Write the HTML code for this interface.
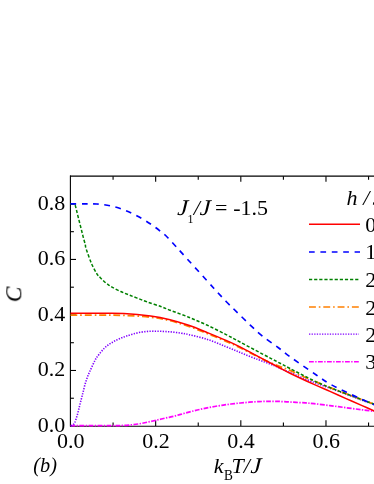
<!DOCTYPE html>
<html><head><meta charset="utf-8"><style>
html,body{margin:0;padding:0;background:#fff;}
body{width:374px;height:484px;overflow:hidden;}
svg{display:block;will-change:transform;font-family:"Liberation Serif",serif;}
.t{filter:grayscale(1);}
</style></head><body>
<svg width="374" height="484" viewBox="0 0 374 484">
<rect width="374" height="484" fill="#fff"/>
<g stroke="#000" stroke-width="1.1" fill="none">
<line x1="70.4" y1="175.4" x2="70.4" y2="426.5"/>
<line x1="70" y1="176.16" x2="374" y2="176.16"/>
<line x1="70" y1="426.3" x2="374" y2="426.3"/>
<line x1="113.08" y1="426.00" x2="113.08" y2="422.50"/><line x1="113.08" y1="176.16" x2="113.08" y2="179.66"/><line x1="155.66" y1="426.00" x2="155.66" y2="420.30"/><line x1="155.66" y1="176.16" x2="155.66" y2="181.86"/><line x1="198.24" y1="426.00" x2="198.24" y2="422.50"/><line x1="198.24" y1="176.16" x2="198.24" y2="179.66"/><line x1="240.82" y1="426.00" x2="240.82" y2="420.30"/><line x1="240.82" y1="176.16" x2="240.82" y2="181.86"/><line x1="283.40" y1="426.00" x2="283.40" y2="422.50"/><line x1="283.40" y1="176.16" x2="283.40" y2="179.66"/><line x1="325.98" y1="426.00" x2="325.98" y2="420.30"/><line x1="325.98" y1="176.16" x2="325.98" y2="181.86"/><line x1="368.56" y1="426.00" x2="368.56" y2="422.50"/><line x1="368.56" y1="176.16" x2="368.56" y2="179.66"/><line x1="70.50" y1="398.24" x2="73.90" y2="398.24"/><line x1="70.50" y1="370.48" x2="76.00" y2="370.48"/><line x1="70.50" y1="342.72" x2="73.90" y2="342.72"/><line x1="70.50" y1="314.96" x2="76.00" y2="314.96"/><line x1="70.50" y1="287.20" x2="73.90" y2="287.20"/><line x1="70.50" y1="259.44" x2="76.00" y2="259.44"/><line x1="70.50" y1="231.68" x2="73.90" y2="231.68"/><line x1="70.50" y1="203.92" x2="76.00" y2="203.92"/>
</g>
<g fill="none" stroke-linecap="butt" stroke-linejoin="round">
<path d="M70.50 425.70 C75.42 425.70 93.08 425.70 100.00 425.70 C106.92 425.70 108.77 425.72 112.00 425.70 C115.23 425.68 116.62 425.70 119.40 425.60 C122.18 425.50 125.58 425.37 128.70 425.10 C131.82 424.83 134.98 424.48 138.10 424.00 C141.22 423.52 144.28 422.85 147.40 422.20 C150.52 421.55 153.68 420.82 156.80 420.10 C159.92 419.38 162.98 418.62 166.10 417.90 C169.22 417.18 172.45 416.57 175.50 415.80 C178.55 415.03 181.37 414.12 184.40 413.30 C187.43 412.48 190.58 411.67 193.70 410.90 C196.82 410.13 199.98 409.38 203.10 408.70 C206.22 408.02 209.28 407.37 212.40 406.80 C215.52 406.23 218.68 405.77 221.80 405.30 C224.92 404.83 227.98 404.38 231.10 404.00 C234.22 403.62 237.45 403.30 240.50 403.00 C243.55 402.70 246.37 402.43 249.40 402.20 C252.43 401.97 255.58 401.73 258.70 401.60 C261.82 401.47 264.98 401.43 268.10 401.40 C271.22 401.37 274.28 401.33 277.40 401.40 C280.52 401.47 283.68 401.63 286.80 401.80 C289.92 401.97 292.98 402.22 296.10 402.40 C299.22 402.58 302.52 402.68 305.50 402.90 C308.48 403.12 309.92 403.25 314.00 403.70 C318.08 404.15 324.65 404.93 330.00 405.60 C335.35 406.27 340.75 407.00 346.10 407.70 C351.45 408.40 357.12 409.17 362.10 409.80 C367.08 410.43 373.68 411.22 376.00 411.50" stroke="#ff00ff" stroke-width="1.7" stroke-dasharray="4.8 1.4 1.4 1.4"/>
<path d="M70.90 425.60 C71.05 425.58 71.42 425.65 71.80 425.50 C72.18 425.35 72.72 425.15 73.20 424.70 C73.68 424.25 74.22 423.77 74.70 422.80 C75.18 421.83 75.62 420.35 76.10 418.90 C76.57 417.45 77.07 415.85 77.55 414.10 C78.03 412.35 78.53 410.32 79.00 408.40 C79.47 406.48 79.92 404.53 80.40 402.60 C80.88 400.67 81.44 398.57 81.90 396.80 C82.36 395.03 82.62 394.12 83.15 392.00 C83.68 389.88 84.42 386.50 85.10 384.10 C85.78 381.70 86.53 379.57 87.25 377.60 C87.97 375.63 88.59 374.17 89.40 372.30 C90.21 370.43 91.17 368.38 92.10 366.40 C93.02 364.42 94.14 361.95 94.95 360.40 C95.76 358.85 95.99 358.45 96.95 357.10 C97.91 355.75 99.46 353.80 100.70 352.30 C101.94 350.80 103.15 349.32 104.40 348.10 C105.65 346.88 106.85 345.97 108.20 345.00 C109.55 344.03 111.08 343.13 112.50 342.30 C113.92 341.47 115.18 340.75 116.70 340.00 C118.22 339.25 119.97 338.45 121.60 337.80 C123.23 337.15 124.60 336.73 126.50 336.10 C128.40 335.47 130.58 334.65 133.00 334.00 C135.42 333.35 138.32 332.65 141.00 332.20 C143.68 331.75 146.42 331.47 149.10 331.30 C151.78 331.13 154.43 331.17 157.10 331.20 C159.77 331.23 162.43 331.35 165.10 331.50 C167.77 331.65 170.42 331.82 173.10 332.10 C175.78 332.38 178.60 332.78 181.20 333.20 C183.80 333.62 184.33 333.57 188.70 334.60 C193.07 335.63 201.18 337.38 207.40 339.40 C213.62 341.42 220.22 344.38 226.00 346.70 C231.78 349.02 236.75 351.15 242.10 353.30 C247.45 355.45 253.45 357.82 258.10 359.60 C262.75 361.38 266.67 362.72 270.00 364.00 C273.33 365.28 274.77 365.87 278.10 367.30 C281.43 368.73 284.02 370.08 290.00 372.60 C295.98 375.12 307.33 379.80 314.00 382.40 C320.67 385.00 324.65 386.23 330.00 388.20 C335.35 390.17 340.75 392.20 346.10 394.20 C351.45 396.20 357.12 398.33 362.10 400.20 C367.08 402.07 373.68 404.53 376.00 405.40" stroke="#8000ff" stroke-width="1.6" stroke-dasharray="1.3 1.35"/>
<path d="M70.50 315.20 C75.42 315.20 91.12 315.17 100.00 315.20 C108.88 315.23 115.37 315.07 123.80 315.40 C132.23 315.73 142.90 316.32 150.60 317.20 C158.30 318.08 163.65 319.18 170.00 320.70 C176.35 322.22 182.47 324.15 188.70 326.30 C194.93 328.45 201.17 331.10 207.40 333.60 C213.63 336.10 220.67 338.95 226.10 341.30 C231.53 343.65 234.00 344.77 240.00 347.70 C246.00 350.63 255.75 355.88 262.10 358.90 C268.45 361.92 273.45 363.88 278.10 365.80 C282.75 367.72 286.02 368.70 290.00 370.40 C293.98 372.10 298.00 374.23 302.00 376.00 C306.00 377.77 309.33 379.07 314.00 381.00 C318.67 382.93 324.65 385.48 330.00 387.60 C335.35 389.72 340.75 391.68 346.10 393.70 C351.45 395.72 357.12 397.83 362.10 399.70 C367.08 401.57 373.68 404.03 376.00 404.90" stroke="#ff8000" stroke-width="1.8" stroke-dasharray="6.9 2.9 1.6 2.9"/>
<path d="M70.50 203.70 C71.00 203.75 72.73 203.77 73.50 204.00 C74.27 204.23 74.57 203.93 75.10 205.10 C75.63 206.27 76.08 208.60 76.70 211.00 C77.32 213.40 78.08 216.65 78.80 219.50 C79.52 222.35 80.28 225.25 81.00 228.10 C81.72 230.95 82.38 233.83 83.10 236.60 C83.82 239.37 84.80 242.67 85.30 244.70 C85.80 246.73 85.07 245.67 86.10 248.80 C87.13 251.93 89.70 259.33 91.50 263.50 C93.30 267.67 95.47 271.48 96.90 273.80 C98.33 276.12 98.75 275.98 100.10 277.40 C101.45 278.82 103.45 280.95 105.00 282.30 C106.55 283.65 108.07 284.60 109.40 285.50 C110.73 286.40 111.12 286.70 113.00 287.70 C114.88 288.70 118.08 290.32 120.70 291.50 C123.32 292.68 125.95 293.70 128.70 294.80 C131.45 295.90 134.08 296.90 137.20 298.10 C140.32 299.30 143.37 300.57 147.40 302.00 C151.43 303.43 157.63 305.33 161.40 306.70 C165.17 308.07 165.45 308.45 170.00 310.20 C174.55 311.95 182.47 314.68 188.70 317.20 C194.93 319.72 201.17 322.40 207.40 325.30 C213.63 328.20 220.67 331.82 226.10 334.60 C231.53 337.38 234.00 338.80 240.00 342.00 C246.00 345.20 255.75 350.43 262.10 353.80 C268.45 357.17 273.45 359.75 278.10 362.20 C282.75 364.65 284.02 365.40 290.00 368.50 C295.98 371.60 307.33 377.62 314.00 380.80 C320.67 383.98 324.65 385.45 330.00 387.60 C335.35 389.75 340.75 391.68 346.10 393.70 C351.45 395.72 357.12 397.83 362.10 399.70 C367.08 401.57 373.68 404.03 376.00 404.90" stroke="#008000" stroke-width="1.5" stroke-dasharray="3.2 1.9"/>
<path d="M70.50 203.90 C72.92 203.90 80.60 203.88 85.00 203.90 C89.40 203.92 92.68 203.68 96.90 204.00 C101.12 204.32 105.82 204.83 110.30 205.80 C114.78 206.77 119.32 208.10 123.80 209.80 C128.28 211.50 132.73 213.63 137.20 216.00 C141.67 218.37 146.57 221.32 150.60 224.00 C154.63 226.68 158.48 229.77 161.40 232.10 C164.32 234.43 163.85 233.58 168.10 238.00 C172.35 242.42 179.28 250.23 186.90 258.60 C194.52 266.97 207.27 281.05 213.80 288.20 C220.33 295.35 222.33 297.60 226.10 301.50 C229.87 305.40 232.42 307.70 236.40 311.60 C240.38 315.50 245.72 320.87 250.00 324.90 C254.28 328.93 257.42 332.03 262.10 335.80 C266.78 339.57 273.45 344.02 278.10 347.50 C282.75 350.98 283.63 352.12 290.00 356.70 C296.37 361.28 309.63 370.45 316.30 375.00 C322.97 379.55 325.03 381.15 330.00 384.00 C334.97 386.85 340.75 389.53 346.10 392.10 C351.45 394.67 357.12 397.18 362.10 399.40 C367.08 401.62 373.68 404.40 376.00 405.40" stroke="#0000ff" stroke-width="1.65" stroke-dasharray="5.7 5.6"/>
<path d="M70.50 313.30 C75.42 313.30 91.12 313.27 100.00 313.30 C108.88 313.33 115.37 313.05 123.80 313.50 C132.23 313.95 142.90 314.97 150.60 316.00 C158.30 317.03 163.65 318.15 170.00 319.70 C176.35 321.25 182.47 323.15 188.70 325.30 C194.93 327.45 201.17 330.08 207.40 332.60 C213.63 335.12 220.67 338.02 226.10 340.40 C231.53 342.78 234.00 343.87 240.00 346.90 C246.00 349.93 255.75 355.25 262.10 358.60 C268.45 361.95 273.45 364.57 278.10 367.00 C282.75 369.43 284.02 370.30 290.00 373.20 C295.98 376.10 307.33 381.37 314.00 384.40 C320.67 387.43 324.65 389.03 330.00 391.40 C335.35 393.77 340.75 396.23 346.10 398.60 C351.45 400.97 357.12 403.40 362.10 405.60 C367.08 407.80 373.68 410.77 376.00 411.80" stroke="#ff0000" stroke-width="1.55"/>
</g>
<g class="t" font-size="22px" fill="#000"><text x="70.80" y="448.3" text-anchor="middle">0.0</text><text x="155.96" y="448.3" text-anchor="middle">0.2</text><text x="241.12" y="448.3" text-anchor="middle">0.4</text><text x="326.28" y="448.3" text-anchor="middle">0.6</text><text x="65.3" y="432.00" text-anchor="end">0.0</text><text x="65.3" y="376.48" text-anchor="end">0.2</text><text x="65.3" y="320.96" text-anchor="end">0.4</text><text x="65.3" y="265.44" text-anchor="end">0.6</text><text x="65.3" y="209.92" text-anchor="end">0.8</text></g>
<g fill="none">
<line x1="309" x2="360" y1="224.2" y2="224.2" stroke="#ff0000" stroke-width="1.5"/>
<line x1="309" x2="360" y1="251.9" y2="251.9" stroke="#0000ff" stroke-width="1.5" stroke-dasharray="5.7 5.7"/>
<line x1="309" x2="360" y1="279.4" y2="279.4" stroke="#008000" stroke-width="1.5" stroke-dasharray="3.2 1.93"/>
<line x1="309" x2="360" y1="307.0" y2="307.0" stroke="#ff8000" stroke-width="1.5" stroke-dasharray="6.9 2.9 1.6 2.9"/>
<line x1="309" x2="358.9" y1="334.1" y2="334.1" stroke="#8000ff" stroke-width="1.4" stroke-dasharray="1.3 1.3"/>
<line x1="309" x2="360" y1="361.7" y2="361.7" stroke="#ff00ff" stroke-width="1.5" stroke-dasharray="4.8 1.4 1.4 1.4"/>
</g>
<g class="t" font-size="22px" fill="#000">
<text x="365.3" y="231.5">0</text>
<text x="365.3" y="259.3">1.0</text>
<text x="365.3" y="286.9">2.0</text>
<text x="365.3" y="314.6">2.5</text>
<text x="365.3" y="341.7">2.8</text>
<text x="365.3" y="369.2">3.0</text>
<g font-style="italic">
<text x="346.6" y="205.3">h</text>
<text x="363.3" y="205.3">/</text>
<text x="372.6" y="205.3">J</text>
<text transform="translate(176.9,215.2) skewX(-3) scale(1.1,1.02)">J</text>
<text x="193.8" y="215.2">/</text>
<text transform="translate(199.6,215.2) skewX(-3) scale(1.1,1.02)">J</text>
</g>
<text x="187.4" y="222.7" font-size="12px">1</text>
<text x="214.9" y="215.2">=</text>
<text x="233.2" y="215.2">-1.5</text>
</g>
<g class="t" font-size="22px" fill="#000" font-style="italic">
<text x="33.3" y="471.8" textLength="23.6" lengthAdjust="spacingAndGlyphs">(b)</text>
<text x="213.8" y="472.5">k</text><text x="224.1" y="479.7" font-size="14px" font-style="normal" textLength="8.9" lengthAdjust="spacingAndGlyphs">B</text><text x="231.6" y="472.5">T/</text><text transform="translate(250.2,472.5) skewX(-3) scale(1.1,1.02)">J</text>
<text transform="translate(21.3,302.2) rotate(-90)" x="0" y="0" font-size="23.3px">C</text>
</g>
</svg>
</body></html>
